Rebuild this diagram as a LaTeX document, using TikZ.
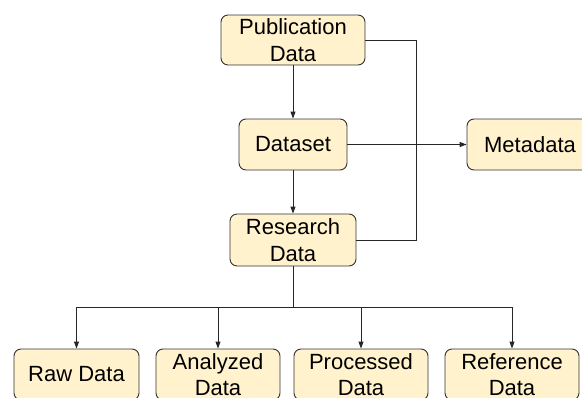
\documentclass[tikz,border=0pt]{standalone}
\usepackage{fontspec}
\setmainfont{Liberation Sans}
\usetikzlibrary{arrows.meta}
\definecolor{boxfill}{HTML}{FFF2CC}
\definecolor{boxdraw}{HTML}{333333}
\begin{document}
\begin{tikzpicture}[x=1pt,y=-1pt,
  box/.style={draw=boxdraw,fill=boxfill,rounded corners=7pt,line width=0.9pt,
    align=center,inner sep=0pt,font=\fontsize{22}{26.5}\selectfont},
  conn/.style={draw=black!85,line width=0.9pt},
  arr/.style={conn,-{Triangle[length=7pt,width=5pt]}}]
\useasboundingbox (0,0) rectangle (582,397);
\node[box,minimum width=144pt,minimum height=50pt] (pub) at (293,40) {Publication\\Data};
\node[box,minimum width=108pt,minimum height=51pt] (dataset) at (293,144.5) {Dataset};
\node[box,minimum width=126pt,minimum height=51pt] (meta) at (530,144.5) {Metadata};
\node[box,minimum width=126pt,minimum height=52pt] (research) at (293,240) {Research\\Data};
\node[box,minimum width=125pt,minimum height=51pt] (raw) at (76.5,374.5) {Raw Data};
\node[box,minimum width=124pt,minimum height=51pt] (analyzed) at (218,374.5) {Analyzed\\Data};
\node[box,minimum width=134pt,minimum height=51pt] (processed) at (361,374.5) {Processed\\Data};
\node[box,minimum width=134pt,minimum height=51pt] (reference) at (512,374.5) {Reference\\Data};
\coordinate (bend) at (416,40);
\coordinate (bus) at (293,307);
\draw[arr] (pub) -- (dataset);
\draw[arr] (dataset) -- (research);
\draw[arr] (dataset) -- (meta);
\draw[conn] (pub.east) -- (bend) |- (research.east);
\draw[arr] (research.south) -- (bus) -| (raw.north);
\draw[arr] (research.south) -- (bus) -| (analyzed.north);
\draw[arr] (research.south) -- (bus) -| (processed.north);
\draw[arr] (research.south) -- (bus) -| (reference.north);
\end{tikzpicture}
\end{document}
